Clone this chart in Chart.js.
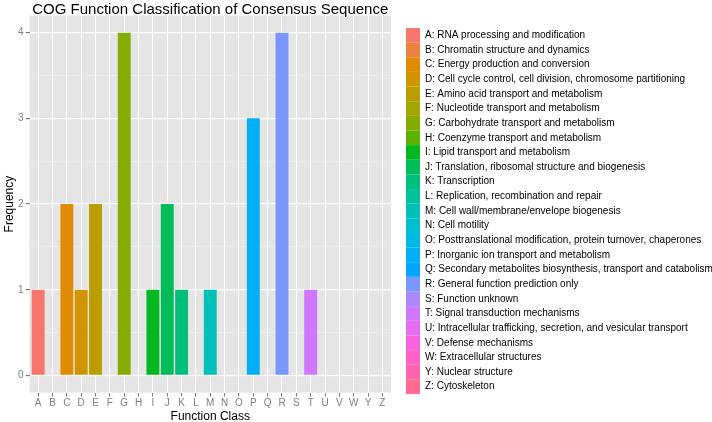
<!DOCTYPE html>
<html>
<head>
<meta charset="utf-8">
<title>COG Function Classification</title>
<script src="https://cdn.jsdelivr.net/npm/chart.js@4.4.0/dist/chart.umd.min.js"></script>
<style>
    html, body { margin: 0; padding: 0; background: #fff; }
    #wrap { width: 712px; height: 422px; }
</style>
</head>
<body>
<div id="wrap"><canvas id="cogChart" width="712" height="422"></canvas></div>
<script>
// ===== Data =====
const classCodes = ['A','B','C','D','E','F','G','H','I','J','K','L','M','N','O','P','Q','R','S','T','U','V','W','Y','Z'];
const classNames = [
    'RNA processing and modification',
    'Chromatin structure and dynamics',
    'Energy production and conversion',
    'Cell cycle control, cell division, chromosome partitioning',
    'Amino acid transport and metabolism',
    'Nucleotide transport and metabolism',
    'Carbohydrate transport and metabolism',
    'Coenzyme transport and metabolism',
    'Lipid transport and metabolism',
    'Translation, ribosomal structure and biogenesis',
    'Transcription',
    'Replication, recombination and repair',
    'Cell wall/membrane/envelope biogenesis',
    'Cell motility',
    'Posttranslational modification, protein turnover, chaperones',
    'Inorganic ion transport and metabolism',
    'Secondary metabolites biosynthesis, transport and catabolism',
    'General function prediction only',
    'Function unknown',
    'Signal transduction mechanisms',
    'Intracellular trafficking, secretion, and vesicular transport',
    'Defense mechanisms',
    'Extracellular structures',
    'Nuclear structure',
    'Cytoskeleton'
];
const frequencies = [1,0,2,1,2,0,4,0,1,2,1,0,1,0,0,3,0,4,0,1,0,0,0,0,0];
const yTickValues = [0, 0.5, 1, 1.5, 2, 2.5, 3, 3.5, 4];

// ggplot-style hue palette (HCL, l=65, c=100)
function hueColors(n) {
    const Xn = 0.950456, Yn = 1.0, Zn = 1.088754;
    const t = Xn + Yn + Zn;
    const xw = Xn / t, yw = Yn / t;
    const uN = 2 * xw / (6 * yw - xw + 1.5);
    const vN = 4.5 * yw / (6 * yw - xw + 1.5);
    const gam = u => u > 0.00304 ? 1.055 * Math.pow(u, 1 / 2.4) - 0.055 : 12.92 * u;
    const out = [];
    for (let i = 0; i < n; i++) {
        const h = (15 + 360 * i / n) * Math.PI / 180;
        const L = 65, C = 100;
        const Y = Yn * Math.pow((L + 16) / 116, 3);
        const u = C * Math.cos(h) / (13 * L) + uN;
        const v = C * Math.sin(h) / (13 * L) + vN;
        const X = 9 * Y * u / (4 * v);
        const Z = -X / 3 - 5 * Y + 3 * Y / v;
        const rgb = [
            3.240479 * X - 1.537150 * Y - 0.498535 * Z,
            -0.969256 * X + 1.875992 * Y + 0.041556 * Z,
            0.055648 * X - 0.204043 * Y + 1.057311 * Z
        ].map(c => Math.round(255 * Math.min(1, Math.max(0, gam(c)))));
        out.push(`rgb(${rgb.join(',')})`);
    }
    return out;
}
const barColors = hueColors(classCodes.length);

const FONT = '"Liberation Sans", Arial, Helvetica, sans-serif';

// grey panel behind the plot
const panelBg = {
    id: 'panelBg',
    beforeDraw(chart) {
        const a = chart.chartArea;
        const ctx = chart.ctx;
        ctx.save();
        ctx.fillStyle = '#E5E5E5';
        ctx.fillRect(a.left, a.top, a.right - a.left, a.bottom - a.top);
        ctx.restore();
    }
};

const isMajor = v => Math.abs(v - Math.round(v)) < 1e-6;

new Chart(document.getElementById('cogChart'), {
    type: 'bar',
    data: {
        datasets: [{
            data: frequencies.map((v, i) => ({ x: i, y: v })),
            backgroundColor: barColors,
            borderWidth: 0,
            barPercentage: 0.9,
            categoryPercentage: 1.0
        }]
    },
    options: {
        responsive: false,
        animation: false,
        layout: { padding: { left: 0, top: 0, right: 0, bottom: 0 } },
        scales: {
            x: {
                type: 'linear',
                offset: false,
                min: -0.6,
                max: classCodes.length - 0.4,
                afterBuildTicks: s => { s.ticks = classCodes.map((c, i) => ({ value: i })); },
                border: { display: false },
                grid: {
                    offset: false,
                    color: '#FFFFFF',
                    lineWidth: 1,
                    tickColor: '#7F7F7F',
                    tickLength: 4,
                    drawTicks: true
                },
                ticks: {
                    autoSkip: false,
                    maxRotation: 0,
                    padding: 1,
                    color: '#7F7F7F',
                    font: { family: FONT, size: 10 },
                    callback: v => classCodes[v]
                },
                title: {
                    display: true,
                    text: 'Function Class',
                    color: '#000',
                    font: { family: FONT, size: 12, lineHeight: 0.95 },
                    padding: { top: 0, bottom: 0 }
                }
            },
            y: {
                min: -0.2,
                max: 4.2,
                afterBuildTicks: s => { s.ticks = yTickValues.map(v => ({ value: v })); },
                border: { display: false },
                grid: {
                    color: c => isMajor(c.tick.value) ? '#FFFFFF' : '#F2F2F2',
                    lineWidth: c => isMajor(c.tick.value) ? 1.2 : 0.6,
                    tickColor: c => isMajor(c.tick.value) ? '#7F7F7F' : 'rgba(0,0,0,0)',
                    tickLength: 4
                },
                ticks: {
                    padding: 2,
                    color: '#7F7F7F',
                    font: { family: FONT, size: 10 },
                    callback: v => isMajor(v) ? String(Math.round(v)) : ''
                },
                title: {
                    display: true,
                    text: 'Frequency',
                    color: '#000',
                    font: { family: FONT, size: 12, lineHeight: 1.0 },
                    padding: { top: 4, bottom: 0 }
                }
            },
            // empty spacer between the panel and the legend
            gap: {
                type: 'linear',
                position: 'right',
                display: true,
                grid: { display: false },
                border: { display: false },
                ticks: { display: false },
                afterFit: s => { s.width = 15; }
            }
        },
        plugins: {
            tooltip: { enabled: false },
            title: {
                display: true,
                fullSize: false,
                text: 'COG Function Classification of Consensus Sequence',
                color: '#000',
                font: { family: FONT, size: 15, weight: 'normal', lineHeight: 1.1 },
                padding: { top: 2, bottom: -3 }
            },
            legend: {
                position: 'right',
                maxWidth: 306,
                labels: {
                    color: '#000',
                    font: { family: FONT, size: 10 },
                    boxWidth: 14,
                    boxHeight: 14.64,
                    padding: 0,
                    generateLabels: () => classCodes.map((c, i) => ({
                        text: c + ': ' + classNames[i],
                        fillStyle: barColors[i],
                        strokeStyle: barColors[i],
                        lineWidth: 0,
                        hidden: false,
                        index: i
                    }))
                },
                onClick: null
            }
        }
    },
    plugins: [panelBg]
});
</script>
</body>
</html>
